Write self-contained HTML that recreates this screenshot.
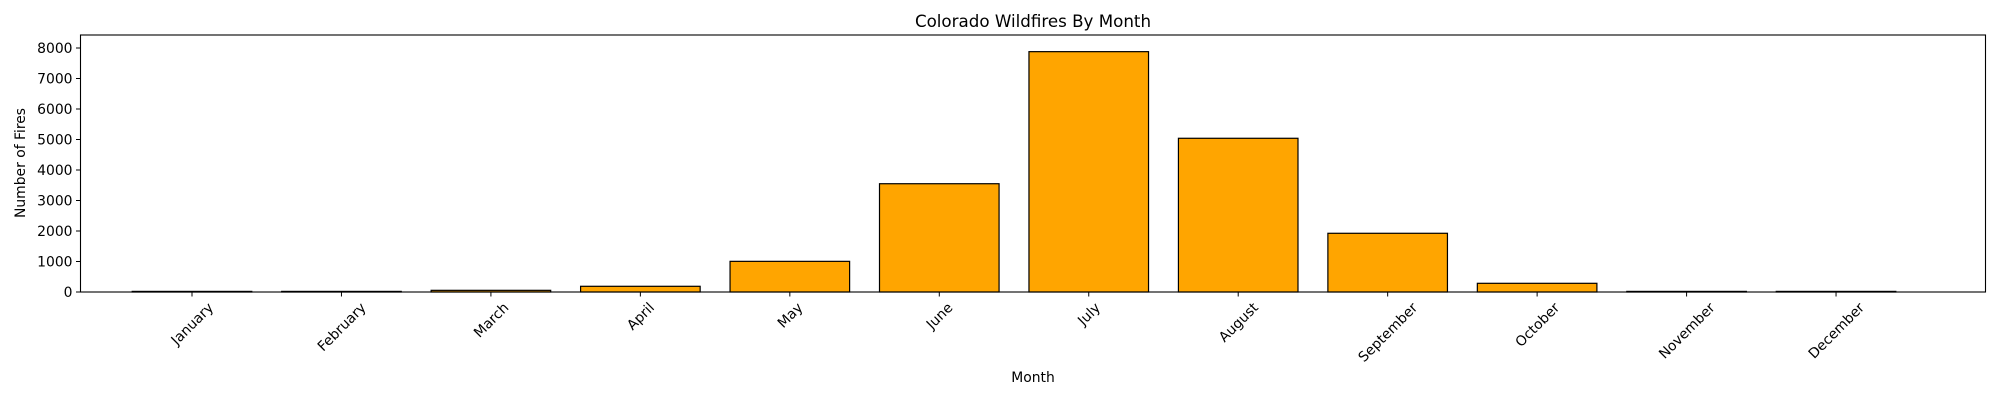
<!DOCTYPE html>
<html><head><meta charset="utf-8"><style>body{margin:0;background:#fff}svg{display:block;font-family:"DejaVu Sans","Liberation Sans",sans-serif}</style></head>
<body>
<svg id="chart" width="2000" height="400">
<text x="1033" y="27" font-size="16.7" text-anchor="middle">Colorado Wildfires By Month</text>
<text x="1033" y="382" font-size="13.9" text-anchor="middle">Month</text>
<text transform="translate(25,163) rotate(-90)" font-size="13.9" text-anchor="middle">Number of Fires</text>
<g id="bars"></g><g id="xt"></g><g id="yt"></g>
<rect x="80.5" y="35" width="1905" height="257" fill="none" stroke="#000" stroke-width="1.1"/>
</svg>
<script>
const months = ["January","February","March","April","May","June","July","August","September","October","November","December"];
const fires = [20, 20, 55, 187, 1005, 3550, 7880, 5040, 1925, 285, 20, 20];
const yTicks = [0,1000,2000,3000,4000,5000,6000,7000,8000];
const L=80.5,R=1985.5,T=35,B=292,xMin=-0.746,xMax=12.0,yMax=8426;
const sx=i=>L+(i-xMin)/(xMax-xMin)*(R-L);
const sy=v=>B-v/yMax*(B-T);
const NS="http://www.w3.org/2000/svg";
const mk=(t,a,p)=>{const e=document.createElementNS(NS,t);for(const k in a)e.setAttribute(k,a[k]);p.appendChild(e);return e;};
const bw=(sx(0.8)-sx(0));
const bars=document.getElementById('bars'),xt=document.getElementById('xt'),yt=document.getElementById('yt');
months.forEach((m,i)=>{
  const r=mk('rect',{x:sx(i)-bw/2,y:sy(fires[i]),width:bw,height:B-sy(fires[i]),fill:'#ffa500',stroke:'#000','stroke-width':1.2},bars);
  
  
  const tk=mk('line',{x1:sx(i),x2:sx(i),y1:B,y2:B+4.5,stroke:'#000','stroke-width':1},xt);
  
  
  const t=mk('text',{'font-size':13.9,'text-anchor':'middle'},xt);
  t.textContent=m;
  
  
  const w=t.getComputedTextLength(),h=(w+13.9)*0.7071;
  const cy=B+8+h/2;
  t.setAttribute('transform','translate('+sx(i)+','+cy+') rotate(-45)');
  t.setAttribute('dy','5');
});
yTicks.forEach(v=>{
  const tk=mk('line',{x1:L-4.5,x2:L,y1:sy(v),y2:sy(v),stroke:'#000','stroke-width':1},yt);
  
  
  const t=mk('text',{x:L-8,y:sy(v)+5,'font-size':13.9,'text-anchor':'end'},yt);
  t.textContent=v;
  
  
});
</script>
</body></html>
